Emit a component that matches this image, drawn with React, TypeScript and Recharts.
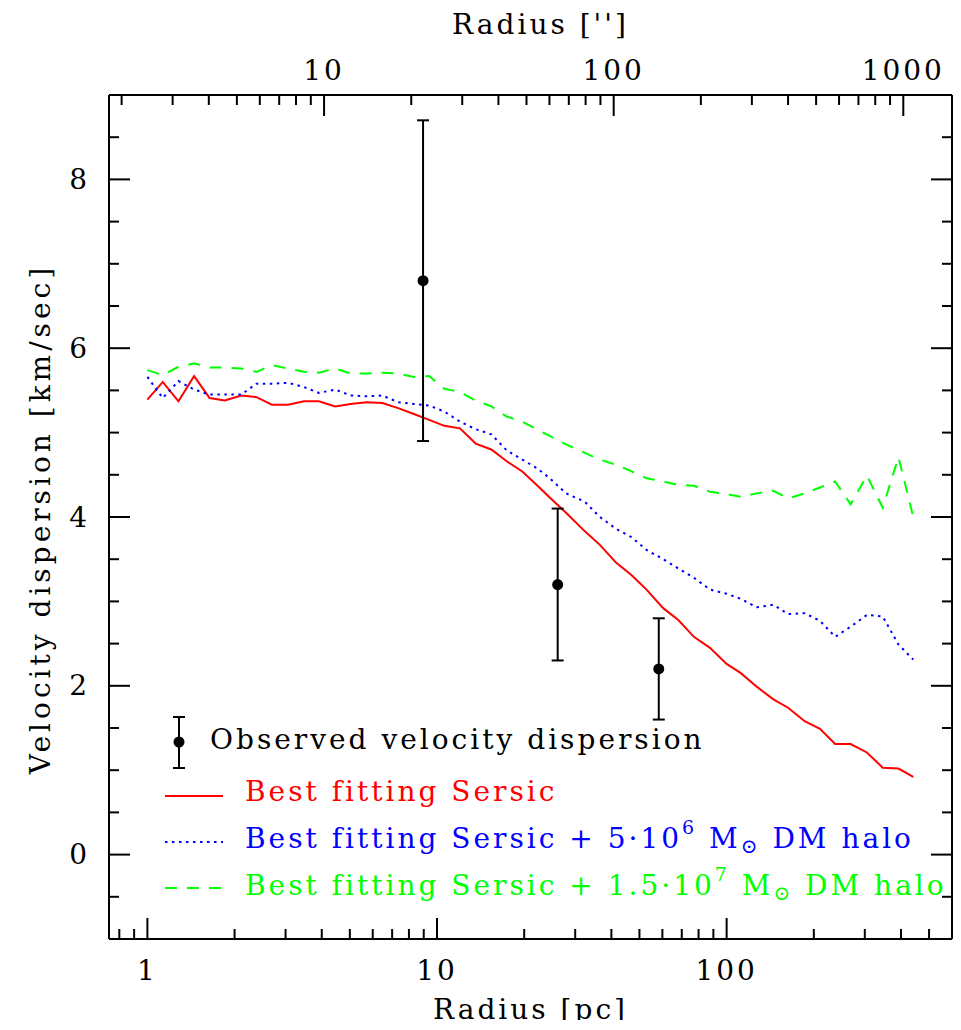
import React from 'react'
import { ComposedChart, Line, Scatter, ErrorBar, XAxis, YAxis, Legend, Label } from 'recharts'

// model radii (pc), shared by the three model curves
const radiusPc = [
  1.0, 1.13, 1.28, 1.45, 1.64, 1.85, 2.11, 2.38, 2.69, 3.06,
  3.47, 3.91, 4.45, 5.03, 5.71, 6.48, 7.34, 8.32, 9.39, 10.6,
  12.0, 13.6, 15.4, 17.4, 19.7, 22.1, 24.5, 27.9, 32.4, 36.5,
  41.5, 47.0, 52.9, 60.4, 68.1, 77.1, 87.6, 100, 112, 127,
  145, 163, 186, 210, 237, 268, 305, 346, 392, 441,
]
const sigmaSersic = [
  5.39, 5.6, 5.37, 5.67, 5.41, 5.38, 5.44, 5.42, 5.33, 5.33,
  5.37, 5.37, 5.31, 5.34, 5.36, 5.35, 5.29, 5.22, 5.15, 5.08,
  5.05, 4.87, 4.8, 4.66, 4.54, 4.38, 4.23, 4.05, 3.83, 3.67,
  3.46, 3.31, 3.14, 2.92, 2.78, 2.58, 2.45, 2.26, 2.15, 1.99,
  1.84, 1.74, 1.58, 1.49, 1.31, 1.31, 1.21, 1.03, 1.02, 0.92,
]
const sigmaHalo5e6 = [
  5.66, 5.41, 5.61, 5.51, 5.45, 5.45, 5.45, 5.58, 5.58, 5.59,
  5.54, 5.47, 5.51, 5.44, 5.43, 5.44, 5.36, 5.34, 5.32, 5.25,
  5.13, 5.04, 4.98, 4.79, 4.68, 4.58, 4.46, 4.28, 4.18, 4.0,
  3.86, 3.76, 3.61, 3.5, 3.39, 3.28, 3.14, 3.09, 3.03, 2.93,
  2.96, 2.85, 2.86, 2.77, 2.58, 2.7, 2.84, 2.82, 2.49, 2.31,
]
const sigmaHalo15e6 = [
  5.74, 5.68, 5.78, 5.82, 5.77, 5.77, 5.76, 5.72, 5.8, 5.76,
  5.72, 5.71, 5.76, 5.7, 5.7, 5.71, 5.7, 5.66, 5.67, 5.52,
  5.48, 5.38, 5.31, 5.19, 5.13, 5.04, 4.96, 4.86, 4.76, 4.68,
  4.62, 4.54, 4.46, 4.42, 4.38, 4.37, 4.3, 4.27, 4.24, 4.28,
  4.31, 4.22, 4.28, 4.35, 4.42, 4.15, 4.49, 4.11, 4.71, 4.0,
]

// observed points
const obsRadiusPc = [8.95, 26.1, 58.3]
const obsSigma = [6.8, 3.2, 2.2]
const obsError = [1.9, 0.9, 0.6]

const pcTicks = [0.8, 0.9, 1, 2, 3, 4, 5, 6, 7, 8, 9, 10, 20, 30, 40, 50, 60, 70, 80, 90, 100, 200, 300, 400, 500]
const arcsecTicks = [2, 3, 4, 5, 6, 7, 8, 9, 10, 20, 30, 40, 50, 60, 70, 80, 90, 100, 200, 300, 400, 500, 600, 700, 800, 900, 1000]
const sigmaTicks = [-0.5, 0, 0.5, 1, 1.5, 2, 2.5, 3, 3.5, 4, 4.5, 5, 5.5, 6, 6.5, 7, 7.5, 8, 8.5]
const decadeLabels = [1, 10, 100, 1000]
const sigmaLabels = [0, 2, 4, 6, 8]

const pcDomain = [0.737, 600]
const PC_PER_ARCSEC = 0.4074
const arcsecDomain = [pcDomain[0] / PC_PER_ARCSEC, pcDomain[1] / PC_PER_ARCSEC]

// layout
const W = 945
const H = 1020
const L = 101
const T = 87
const R = 944
const B = 931
const MAJOR = 21
const MINOR = 10

const txt: React.CSSProperties = {
  fontFamily: '"DejaVu Serif", serif',
  fontSize: 28,
  letterSpacing: 3,
  fill: '#000',
}

const RED = '#ff0000'
const BLUE = '#0000ff'
const GREEN = '#00ff00'

const curve = (ys: number[]) => radiusPc.map((r, i) => ({ r, v: ys[i] }))
// same model radii expressed in arcsec, only used to drive the top axis
const arcsecCurve = radiusPc.map((r, i) => ({ r: r / PC_PER_ARCSEC, v: sigmaSersic[i] }))
const obsData = obsRadiusPc.map((r, i) => ({ r, v: obsSigma[i], err: obsError[i] }))

const BottomTick = ({ x, payload }: any) => {
  const major = decadeLabels.includes(payload.value)
  return (
    <g>
      <line x1={x} x2={x} y1={B} y2={B - (major ? MAJOR : MINOR)} stroke='#000' strokeWidth={2} />
      {major && (
        <text x={x} y={B + 31} textAnchor='middle' dominantBaseline='central' style={txt}>
          {payload.value}
        </text>
      )}
    </g>
  )
}

const TopTick = ({ x, payload }: any) => {
  const major = decadeLabels.includes(payload.value)
  return (
    <g>
      <line x1={x} x2={x} y1={T} y2={T + (major ? MAJOR : MINOR)} stroke='#000' strokeWidth={2} />
      {major && (
        <text x={x} y={T - 25} textAnchor='middle' dominantBaseline='central' style={txt}>
          {payload.value}
        </text>
      )}
    </g>
  )
}

const LeftTick = ({ y, payload }: any) => {
  const major = sigmaLabels.includes(payload.value)
  return (
    <g>
      <line x1={L} x2={L + (major ? MAJOR : MINOR)} y1={y} y2={y} stroke='#000' strokeWidth={2} />
      {major && (
        <text x={L - 19} y={y} textAnchor='end' dominantBaseline='central' style={txt}>
          {payload.value}
        </text>
      )}
    </g>
  )
}

const RightTick = ({ y, payload }: any) => {
  const major = sigmaLabels.includes(payload.value)
  return <line x1={R - (major ? MAJOR : MINOR)} x2={R} y1={y} y2={y} stroke='#000' strokeWidth={2} />
}

const Dot = (p: any) => <circle cx={p.cx} cy={p.cy} r={5.5} fill='#000' />

const LegendBox = () => {
  const lx1 = 157
  const lx2 = 215
  const tx = 237
  return (
    <svg width={W} height={H} style={{ position: 'absolute', left: 0, top: 0 }}>
      <line x1={171} x2={171} y1={709} y2={760} stroke='#000' strokeWidth={2} />
      <line x1={165} x2={177} y1={709} y2={709} stroke='#000' strokeWidth={2} />
      <line x1={165} x2={177} y1={760} y2={760} stroke='#000' strokeWidth={2} />
      <circle cx={171} cy={734} r={5.5} fill='#000' />
      <text x={202} y={731} dominantBaseline='central' style={txt}>
        Observed velocity dispersion
      </text>

      <line x1={lx1} x2={lx2} y1={788} y2={788} stroke={RED} strokeWidth={2} />
      <text x={tx} y={783} dominantBaseline='central' style={{ ...txt, fill: RED }}>
        Best fitting Sersic
      </text>

      <line x1={lx1} x2={lx2} y1={834} y2={834} stroke={BLUE} strokeWidth={2} strokeDasharray='2.5 4.5' />
      <text x={tx} y={830} dominantBaseline='central' style={{ ...txt, fill: BLUE }}>
        Best fitting Sersic + 5·10
        <tspan dy={-11} fontSize={19}>6</tspan>
        <tspan dy={11}> M</tspan>
        <tspan dy={8} fontSize={20}>⊙</tspan>
        <tspan dy={-8}> DM halo</tspan>
      </text>

      <line x1={lx1} x2={lx2} y1={880} y2={880} stroke={GREEN} strokeWidth={2} strokeDasharray='12 10' />
      <text x={tx} y={877} dominantBaseline='central' style={{ ...txt, fill: GREEN }}>
        Best fitting Sersic + 1.5·10
        <tspan dy={-11} fontSize={19}>7</tspan>
        <tspan dy={11}> M</tspan>
        <tspan dy={8} fontSize={20}>⊙</tspan>
        <tspan dy={-8}> DM halo</tspan>
      </text>
    </svg>
  )
}

export default function App() {
  return (
    <div style={{ width: W, height: H, marginBottom: -8 }}>
      <ComposedChart width={W} height={H} margin={{ top: 0, right: 0, bottom: 0, left: 0 }}>
        <XAxis
          xAxisId='pc'
          dataKey='r'
          type='number'
          scale='log'
          domain={pcDomain}
          allowDataOverflow
          ticks={pcTicks}
          interval={0}
          orientation='bottom'
          height={H - B}
          axisLine={{ stroke: '#000', strokeWidth: 2 }}
          tickLine={false}
          tick={<BottomTick />}
        >
          <Label
            value='Radius [pc]'
            content={() => (
              <text x={(L + R) / 2} y={1001} textAnchor='middle' dominantBaseline='central' style={txt}>
                Radius [pc]
              </text>
            )}
          />
        </XAxis>
        <XAxis
          xAxisId='arcsec'
          dataKey='r'
          type='number'
          scale='log'
          domain={arcsecDomain}
          allowDataOverflow
          ticks={arcsecTicks}
          interval={0}
          orientation='top'
          height={T}
          axisLine={{ stroke: '#000', strokeWidth: 2 }}
          tickLine={false}
          tick={<TopTick />}
        >
          <Label
            value="Radius ['']"
            content={() => (
              <text x={(L + R) / 2 + 10} y={16} textAnchor='middle' dominantBaseline='central' style={txt}>
                Radius ['']
              </text>
            )}
          />
        </XAxis>
        <YAxis
          yAxisId='sigma'
          dataKey='v'
          type='number'
          domain={[-1, 9]}
          allowDataOverflow
          ticks={sigmaTicks}
          interval={0}
          width={L}
          axisLine={{ stroke: '#000', strokeWidth: 2 }}
          tickLine={false}
          tick={<LeftTick />}
        >
          <Label
            value='Velocity dispersion [km/sec]'
            content={() => (
              <text
                x={32}
                y={(T + B) / 2 + 2}
                textAnchor='middle'
                dominantBaseline='central'
                transform={`rotate(-90 32 ${(T + B) / 2 + 2})`}
                style={{ ...txt, letterSpacing: 4 }}
              >
                Velocity dispersion [km/sec]
              </text>
            )}
          />
        </YAxis>
        <YAxis
          yAxisId='right'
          orientation='right'
          type='number'
          domain={[-1, 9]}
          allowDataOverflow
          ticks={sigmaTicks}
          interval={0}
          width={W - R}
          axisLine={{ stroke: '#000', strokeWidth: 2 }}
          tickLine={false}
          tick={<RightTick />}
        />

        <Line
          data={arcsecCurve}
          dataKey='v'
          xAxisId='arcsec'
          yAxisId='sigma'
          stroke='none'
          dot={false}
          legendType='none'
          isAnimationActive={false}
        />
        <Line
          data={curve(sigmaSersic)}
          dataKey='v'
          xAxisId='pc'
          yAxisId='sigma'
          type='linear'
          stroke={RED}
          strokeWidth={2}
          dot={false}
          isAnimationActive={false}
        />
        <Line
          data={curve(sigmaHalo5e6)}
          dataKey='v'
          xAxisId='pc'
          yAxisId='sigma'
          type='linear'
          stroke={BLUE}
          strokeWidth={2}
          strokeDasharray='2.5 4.5'
          dot={false}
          isAnimationActive={false}
        />
        <Line
          data={curve(sigmaHalo15e6)}
          dataKey='v'
          xAxisId='pc'
          yAxisId='sigma'
          type='linear'
          stroke={GREEN}
          strokeWidth={2}
          strokeDasharray='12 10'
          dot={false}
          isAnimationActive={false}
        />
        <Scatter
          data={obsData}
          dataKey='v'
          xAxisId='pc'
          yAxisId='sigma'
          fill='#000'
          shape={Dot}
          isAnimationActive={false}
        >
          <ErrorBar dataKey='err' direction='y' width={6} stroke='#000' strokeWidth={2} />
        </Scatter>

        <Legend
          content={<LegendBox />}
          layout='horizontal'
          verticalAlign='middle'
          align='center'
          wrapperStyle={{ left: 0, top: 0, width: W, height: H }}
        />
      </ComposedChart>
    </div>
  )
}
